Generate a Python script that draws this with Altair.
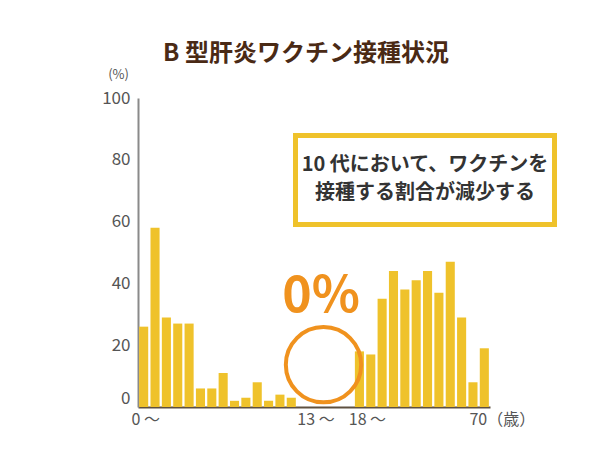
import pandas as pd
import altair as alt

# Data: one bar per age slot (0～ on the left, 70 on the right)
slots = list(range(31))
rates = [26, 58, 29, 27, 27, 6, 6, 11, 2, 3, 8, 2, 4, 3,
         0, 0, 0, 0, 0,
         18, 17, 35, 44, 38, 41, 44, 37, 47, 29, 8, 19]

tick_slots = [0, 15, 19, 30]
tick_texts = ["0 ～", "13 ～", "18 ～", "70（歳）"]

title_text = "B 型肝炎ワクチン接種状況"
note_text = "10 代において、ワクチンを\n接種する割合が減少する"
zero_text = "0%"

FONT = "Noto Sans CJK JP"
BAR = "#efc22b"
ORANGE = "#f0921e"

df = pd.DataFrame({"slot": slots, "rate": rates})

label_expr = " : ".join(
    f"datum.value == {p} ? '{t}'" for p, t in zip(tick_slots, tick_texts)
) + " : ''"

x_axis = alt.Axis(
    values=tick_slots,
    labelExpr=label_expr,
    labelAngle=0,
    ticks=False,
    title=None,
    domainColor="#5e5040",
    domainWidth=2,
    labelFont=FONT,
    labelFontSize=16,
    labelFontWeight="normal",
    labelColor="#555555",
    labelPadding=4,
    labelOffset={"condition": [
        {"test": "datum.value == 19", "value": 8},
        {"test": "datum.value == 30", "value": 18},
    ], "value": 2},
)

y_axis = alt.Axis(
    values=[0, 20, 40, 60, 80, 100],
    ticks=False,
    grid=False,
    domainColor="#8a8a8a",
    domainWidth=2,
    labelFont=FONT,
    labelFontSize=17,
    labelFontWeight="normal",
    labelColor="#555555",
    labelPadding=8,
    labelBaseline={"condition": {"test": "datum.value == 0", "value": "bottom"},
                   "value": "middle"},
    title="(%)",
    titleAngle=0,
    titleX=-20,
    titleY=-24,
    titleAlign="center",
    titleBaseline="middle",
    titleFont=FONT,
    titleFontSize=13,
    titleFontWeight="normal",
    titleColor="#555555",
)

bars = alt.Chart(df).mark_bar(color=BAR).encode(
    x=alt.X("slot:O", axis=x_axis,
            scale=alt.Scale(paddingInner=0.2, paddingOuter=0.1)),
    y=alt.Y("rate:Q", axis=y_axis, scale=alt.Scale(domain=[0, 100])),
)

one = pd.DataFrame({"k": [0]})

box = alt.Chart(one).mark_rect(
    fill="white", stroke=BAR, strokeWidth=5
).encode(
    x=alt.value(157.5), x2=alt.value(416.5),
    y=alt.value(37.5), y2=alt.value(126.5),
)

note = alt.Chart(one).mark_text(
    text=note_text, lineBreak="\n", lineHeight=28,
    font=FONT, fontSize=20, fontWeight="bold", color="#333333",
    align="center", baseline="middle",
).encode(x=alt.value(287), y=alt.value(67))

ring = alt.Chart(one).mark_point(
    shape="circle", filled=False, size=5675, strokeWidth=4,
    color=ORANGE, opacity=1,
).encode(x=alt.value(185.5), y=alt.value(266.7))

zero = alt.Chart(one).mark_text(
    text=zero_text, font=FONT, fontSize=50, fontWeight="bold",
    color=ORANGE, align="center", baseline="middle",
).encode(x=alt.value(183), y=alt.value(199))

chart = alt.layer(bars, box, note, ring, zero).properties(
    width=352,
    height=309,
    autosize=alt.AutoSizeParams(type="none"),
    padding={"left": 130, "top": 90, "right": 100, "bottom": 32},
    title=alt.TitleParams(
        title_text, font=FONT, fontSize=24, fontWeight="bold",
        color="#4a2a15", anchor="middle", dx=-8, dy=6, offset=8,
    ),
).configure_view(stroke=None)

chart.save("out.html", embed_options={"renderer": "svg", "actions": False})
